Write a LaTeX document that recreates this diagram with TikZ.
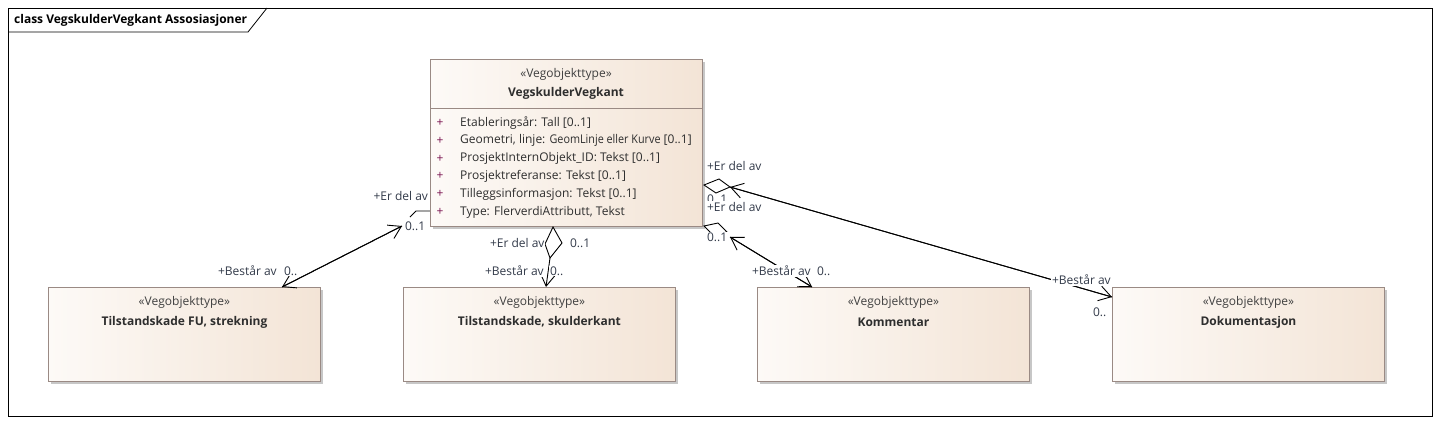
\documentclass[tikz,border=0pt]{standalone}
\usepackage{fontspec}
\setmainfont{Open Sans}
\usetikzlibrary{arrows.meta,shadows}
\definecolor{fillL}{HTML}{FDFAF7}
\definecolor{fillR}{HTML}{F3E4D6}
\definecolor{bord}{HTML}{9A8A84}
\definecolor{txtc}{HTML}{2E2E2E}
\definecolor{stc}{HTML}{404040}
\definecolor{lblc}{HTML}{333B4A}
\definecolor{plusc}{HTML}{7A1450}
\begin{document}
\begin{tikzpicture}[x=1pt,y=-1pt,
  cls/.style={draw=bord, line width=0.9pt, left color=fillL, right color=fillR,
    anchor=north west, minimum width=272, minimum height=94, inner sep=0pt,
    drop shadow={shadow xshift=3pt, shadow yshift=-3pt, fill=black, opacity=0.22}},
  stereo/.style={font=\fontsize{12}{14}\selectfont, text=stc, inner sep=0pt},
  cname/.style={font=\bfseries\fontsize{12}{14}\selectfont, text=txtc, inner sep=0pt},
  attr/.style={font=\fontsize{12}{14}\selectfont, text=txtc, inner sep=0pt, anchor=west},
  plusmark/.style={font=\fontsize{12}{14}\selectfont, text=plusc, inner sep=0pt},
  lbl/.style={font=\fontsize{12}{14}\selectfont, text=lblc, inner sep=0.8pt, fill=white, anchor=west},
  conn/.style={draw=black, line width=0.9pt},
  tip/.style={-{Straight Barb[length=12pt,width=15pt]}},
  diam/.style={draw=black, line width=0.9pt, fill=white}
]
\useasboundingbox (0,0) rectangle (1438,424);
\fill[white] (0,0) rectangle (1438,424);

% frame
\node[draw=black, line width=0.8pt, anchor=north west, minimum width=1424, minimum height=408, inner sep=0pt] (frame) at (8,8) {};
\node[font=\bfseries\fontsize{12}{14}\selectfont, text=black, anchor=west, inner sep=0pt] (title) at (14,20) {class VegskulderVegkant Assosiasjoner};
\draw[line width=0.8pt] (8,32) -- (248,32) -- (267,8);

% diamonds partly hidden behind the main class
\draw[conn] (410,217) -- (416,211) -- (432,211);
\draw[diam] (704,185) -- (719,179) -- (730,187) -- (716,193) -- cycle;
\draw[diam] (704,226) -- (718,223) -- (727,232) -- (713,235) -- cycle;

% main class
\node[cls, minimum height=167] (main) at (430,59) {};
\draw[bord, line width=0.9pt] ([yshift=-49pt]main.north west) -- ([yshift=-49pt]main.north east);
\node[stereo] (mainst) at (566,74) {«Vegobjekttype»};
\node[cname] (mainname) at (566,93) {VegskulderVegkant};
\foreach \t [count=\i] in {{Etableringsår: Tall [0..1]},
  {Geometri, linje: \scalebox{0.9}[1]{GeomLinje eller Kurve} [0..1]},
  {ProsjektInternObjekt\_ID: Tekst [0..1]},
  {Prosjektreferanse: Tekst [0..1]},
  {Tilleggsinformasjon: Tekst [0..1]},
  {Type: FlerverdiAttributt, Tekst}} {
  \node[plusmark] (p\i) at (440,105.2+17.8*\i) {+};
  \node[attr] (a\i) at (460,105.2+17.8*\i) {\t};
}

% part classes
\node[cls] (fu) at (48,287) {};
\node[stereo] (fust) at (fu.north) [yshift=-15pt] {«Vegobjekttype»};
\node[cname] (funame) at (fu.north) [yshift=-35pt] {Tilstandskade FU, strekning};

\node[cls] (sk) at (403,287) {};
\node[stereo] (skst) at (sk.north) [yshift=-15pt] {«Vegobjekttype»};
\node[cname] (skname) at (sk.north) [yshift=-35pt] {Tilstandskade, skulderkant};

\node[cls] (ko) at (757,287) {};
\node[stereo] (kost) at (ko.north) [yshift=-15pt] {«Vegobjekttype»};
\node[cname] (koname) at (ko.north) [yshift=-35pt] {Kommentar};

\node[cls] (dok) at (1112,287) {};
\node[stereo] (dokst) at (dok.north) [yshift=-15pt] {«Vegobjekttype»};
\node[cname] (dokname) at (dok.north) [yshift=-35pt] {Dokumentasjon};

% middle diamond
\draw[diam] (553,227) -- (562,243) -- (550,258) -- (545,244) -- cycle;

% connector end points
\coordinate (l1) at (402,226);
\coordinate (l2) at (282,287);
\coordinate (m1) at (550,258);
\coordinate (m2) at (546,287);
\coordinate (k1) at (730,237);
\coordinate (k2) at (812,287);
\coordinate (d1) at (730,187);
\coordinate (d2) at (1112,297);

\draw[conn, tip] (l1) -- (l2);
\draw[conn, tip] (l2) -- (l1);
\draw[conn, tip] (m1) -- (m2);
\draw[conn, tip] (k1) -- (k2);
\draw[conn, tip] (k2) -- (k1);
\draw[conn, tip] (d1) -- (d2);
\draw[conn, tip] (d2) -- (d1);

% labels
\node[lbl, anchor=east] (l1r) at (429,196) {+Er del av};
\node[lbl] (l1m) at (404,226) {0..1};
\node[lbl] (l2r) at (217,271) {+Består av};
\node[lbl] (l2m) at (283,271) {0..};

\node[lbl] (m1r) at (489,243) {+Er del av};
\node[lbl] (m1m) at (569,243) {0..1};
\node[lbl] (m2r) at (484,271) {+Består av};
\node[lbl] (m2m) at (549,271) {0..};

\node[lbl] (d1r) at (706,166) {+Er del av};
\node[lbl] (d1m) at (706,199) {0..1};
\node[lbl, inner ysep=1.5pt] (k1r) at (706,207) {+Er del av};
\node[lbl] (k1m) at (706,237) {0..1};
\node[lbl] (k2r) at (751,271) {+Består av};
\node[lbl] (k2m) at (816,271) {0..};
\node[lbl] (d2r) at (1051,280) {+Består av};
\node[lbl] (d2m) at (1092,312) {0..};
\end{tikzpicture}
\end{document}
